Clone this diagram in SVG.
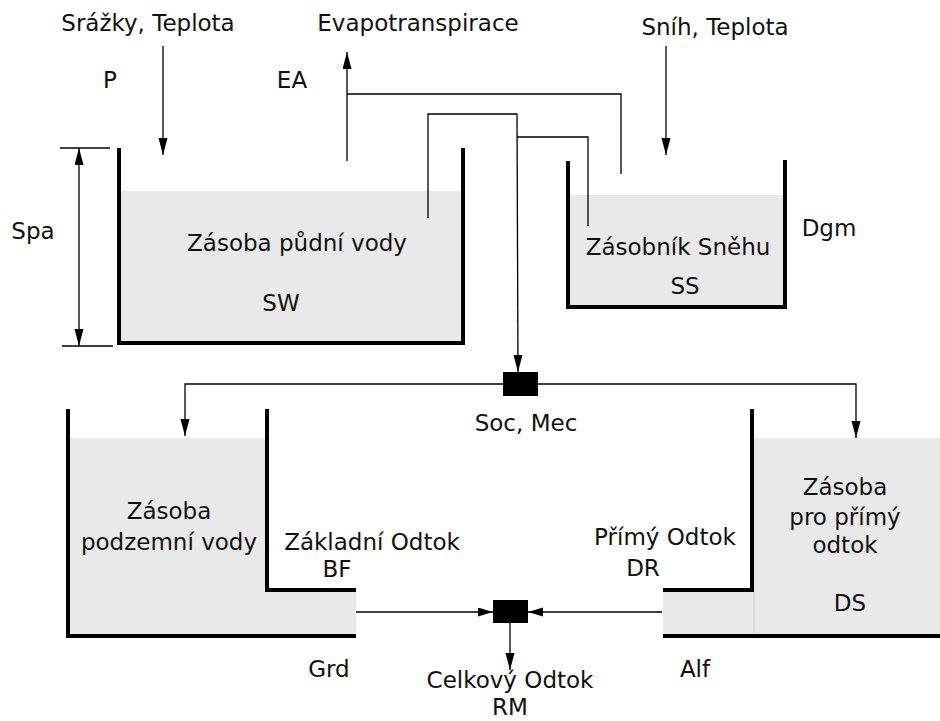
<svg xmlns="http://www.w3.org/2000/svg" width="940" height="721" viewBox="0 0 940 721">
<style>
text{font-family:"DejaVu Sans","Liberation Sans",sans-serif;font-size:23px;fill:#111;text-anchor:middle}
.wall{fill:none;stroke:#000;stroke-width:4;stroke-linecap:square}
.fill{fill:#e9e9e9;stroke:none}
.ln{fill:none;stroke:#000;stroke-width:1.3}
.arr{fill:none;stroke:#000;stroke-width:1.3;marker-end:url(#ah)}
</style>
<defs>
<marker id="ah" markerUnits="userSpaceOnUse" markerWidth="18" markerHeight="10" refX="17" refY="4.5" orient="auto-start-reverse"><path d="M0,0 L17,4.5 L0,9 z" fill="#000"/></marker>
<marker id="ahs" markerUnits="userSpaceOnUse" markerWidth="16" markerHeight="10" refX="15" refY="4.5" orient="auto"><path d="M0,0 L15,4.5 L0,9 z" fill="#000"/></marker>
</defs>
<rect width="940" height="721" fill="#fff"/>

<g id="soil">
<rect class="fill" x="121" y="191" width="340" height="152"/>
<path class="wall" d="M119,150 V343 H463 V150"/>
<text x="297" y="251">Zásoba půdní vody</text>
<text x="281" y="311">SW</text>
</g>

<g id="snow">
<rect class="fill" x="570" y="195" width="213" height="112"/>
<path class="wall" d="M568,163 V307 H785 V162"/>
<text x="678" y="255">Zásobník Sněhu</text>
<text x="685" y="294">SS</text>
<text x="829" y="236">Dgm</text>
</g>

<g id="groundwater">
<path class="fill" d="M70,438 H265 V592 H356 V635 H70 z"/>
<path class="wall" d="M68,411 V636 H354"/>
<path class="wall" d="M267,411 V590 H354"/>
<text x="169" y="519">Zásoba</text>
<text x="169" y="550">podzemní vody</text>
<text x="372" y="550">Základní Odtok</text>
<text x="337" y="577">BF</text>
<text x="329" y="677">Grd</text>
</g>

<g id="direct">
<path class="fill" d="M754,438 H940 V635 H663 V592 H754 z"/>
<line x1="754" y1="592" x2="754" y2="635" stroke="#d0d0d0" stroke-width="1"/>
<path class="wall" d="M752,411 V590 H665"/>
<path class="wall" d="M665,636 H940"/>
<text x="845" y="495">Zásoba</text>
<text x="845" y="525">pro přímý</text>
<text x="845" y="553">odtok</text>
<text x="850" y="611">DS</text>
<text x="665" y="545">Přímý Odtok</text>
<text x="643" y="576">DR</text>
<text x="695" y="677">Alf</text>
</g>

<g id="split">
<rect x="503" y="372" width="35" height="24" fill="#000"/>
<text x="526" y="431">Soc, Mec</text>
</g>

<g id="sum">
<rect x="493" y="600" width="35" height="23" fill="#000"/>
<text x="510" y="688">Celkový Odtok</text>
<text x="510" y="715">RM</text>
</g>

<g id="labels">
<text x="148" y="31">Srážky, Teplota</text>
<text x="418" y="31">Evapotranspirace</text>
<text x="715" y="35">Sníh, Teplota</text>
<text x="110" y="88">P</text>
<text x="292" y="88">EA</text>
<text x="33" y="239">Spa</text>
</g>

<g id="connectors">
<line class="arr" x1="163" y1="46" x2="163" y2="155"/>
<line class="arr" x1="666" y1="46" x2="666" y2="155"/>
<line class="arr" x1="347" y1="161" x2="347" y2="52"/>
<polyline class="ln" points="347,94 621,94 621,174"/>
<polyline class="ln" points="428,218 428,114 517,114"/>
<polyline class="ln" points="517,137 588,137 588,226"/>
<line class="arr" x1="517" y1="114" x2="518" y2="372"/>
<polyline class="arr" points="503,384 185,384 185,436"/>
<polyline class="arr" points="538,384 856,384 856,438"/>
<line class="ln" x1="60" y1="148" x2="110" y2="148"/>
<line class="ln" x1="62" y1="346" x2="113" y2="346"/>
<line class="ln" x1="79" y1="148" x2="79" y2="346" marker-start="url(#ah)" marker-end="url(#ah)"/>
<line class="ln" x1="356" y1="612" x2="493" y2="612" marker-end="url(#ahs)"/>
<line class="ln" x1="662" y1="612" x2="528" y2="612" marker-end="url(#ahs)"/>
<line class="arr" x1="510" y1="623" x2="510" y2="670"/>
</g>
</svg>
